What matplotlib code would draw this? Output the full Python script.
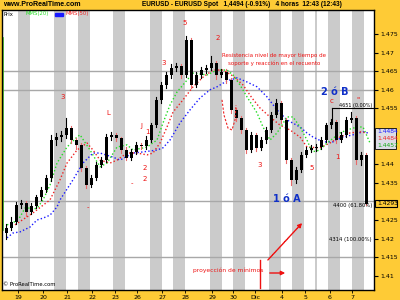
import numpy as np
import matplotlib
matplotlib.use('Agg')
import matplotlib.pyplot as plt
from matplotlib.patches import Rectangle

# --- 4h candles EURUSD ---
opens = [1.4215, 1.4229, 1.4245, 1.4290, 1.4296, 1.4272, 1.4288, 1.4312, 1.4331, 1.4363,
         1.4465, 1.4473, 1.4479, 1.4497, 1.4465, 1.4452, 1.4390, 1.4344, 1.4363, 1.4398,
         1.4411, 1.4473, 1.4479, 1.4470, 1.4438, 1.4417, 1.4433, 1.4452, 1.4449, 1.4465,
         1.4505, 1.4573, 1.4613, 1.4640, 1.4659, 1.4664, 1.4640, 1.4734, 1.4613, 1.4640,
         1.4653, 1.4659, 1.4672, 1.4640, 1.4648, 1.4626, 1.4546, 1.4524, 1.4492, 1.4438,
         1.4479, 1.4444, 1.4465, 1.4492, 1.4532, 1.4565, 1.4519, 1.4411, 1.4358, 1.4384,
         1.4425, 1.4438, 1.4444, 1.4446, 1.4465, 1.4505, 1.4513, 1.4465, 1.4479, 1.4519,
         1.4524, 1.4411, 1.4425]
closes = [1.4229, 1.4245, 1.4290, 1.4296, 1.4272, 1.4288, 1.4312, 1.4331, 1.4363, 1.4465,
          1.4473, 1.4479, 1.4497, 1.4465, 1.4452, 1.4390, 1.4344, 1.4363, 1.4398, 1.4411,
          1.4473, 1.4479, 1.4470, 1.4438, 1.4417, 1.4433, 1.4452, 1.4449, 1.4465, 1.4505,
          1.4573, 1.4613, 1.4640, 1.4659, 1.4664, 1.4640, 1.4734, 1.4613, 1.4640, 1.4653,
          1.4659, 1.4672, 1.4640, 1.4648, 1.4626, 1.4546, 1.4524, 1.4492, 1.4438, 1.4479,
          1.4444, 1.4465, 1.4492, 1.4532, 1.4565, 1.4519, 1.4411, 1.4358, 1.4384, 1.4425,
          1.4438, 1.4444, 1.4446, 1.4465, 1.4505, 1.4513, 1.4465, 1.4479, 1.4519, 1.4524,
          1.4411, 1.4425, 1.4293]
highs = [1.4240, 1.4258, 1.4298, 1.4305, 1.4300, 1.4295, 1.4318, 1.4338, 1.4370, 1.4478,
         1.4485, 1.4490, 1.4525, 1.4503, 1.4470, 1.4458, 1.4395, 1.4372, 1.4405, 1.4420,
         1.4480, 1.4486, 1.4484, 1.4474, 1.4445, 1.4440, 1.4460, 1.4458, 1.4475, 1.4512,
         1.4580, 1.4620, 1.4648, 1.4668, 1.4672, 1.4670, 1.4745, 1.4738, 1.4648, 1.4660,
         1.4666, 1.4690, 1.4678, 1.4656, 1.4655, 1.4632, 1.4552, 1.4530, 1.4498, 1.4486,
         1.4485, 1.4472, 1.4500, 1.4540, 1.4575, 1.4570, 1.4525, 1.4416, 1.4392, 1.4432,
         1.4446, 1.4452, 1.4455, 1.4472, 1.4512, 1.4522, 1.4518, 1.4487, 1.4526, 1.4540,
         1.4530, 1.4432, 1.4430]
lows = [1.4200, 1.4222, 1.4240, 1.4282, 1.4262, 1.4265, 1.4283, 1.4305, 1.4325, 1.4355,
        1.4452, 1.4462, 1.4470, 1.4458, 1.4440, 1.4382, 1.4335, 1.4338, 1.4358, 1.4392,
        1.4405, 1.4466, 1.4463, 1.4430, 1.4410, 1.4410, 1.4428, 1.4440, 1.4442, 1.4460,
        1.4500, 1.4565, 1.4605, 1.4632, 1.4650, 1.4632, 1.4635, 1.4605, 1.4608, 1.4632,
        1.4645, 1.4652, 1.4630, 1.4634, 1.4618, 1.4538, 1.4515, 1.4485, 1.4430, 1.4432,
        1.4436, 1.4438, 1.4458, 1.4486, 1.4526, 1.4510, 1.4402, 1.4345, 1.4350, 1.4378,
        1.4418, 1.4432, 1.4436, 1.4440, 1.4460, 1.4498, 1.4458, 1.4460, 1.4474, 1.4514,
        1.4400, 1.4398, 1.4290]

# moving averages, sampled (candle position, price)
ma_fast_x = [0.2, 1.4, 2.8, 3.8, 4.8, 5.4, 6.4, 7.4, 8.8, 10.2, 12.2, 14.2, 14.8, 16.8, 18.8,
             20.2, 22.2, 24.2, 25.4, 28.2, 30.2, 31.4, 32.8, 34.2, 36.2, 37.4, 40.2, 42.2, 44.2,
             45.4, 46.8, 48.2, 50.2, 51.4, 52.8, 54.2, 56.2, 57.4, 58.8, 60.2, 61.2, 62.8, 64.2,
             66.8, 68.2, 70.2, 71.4, 72.8]
ma_fast_y = [1.4237, 1.4242, 1.4258, 1.4282, 1.4282, 1.4277, 1.4285, 1.4304, 1.4344, 1.4403,
             1.4446, 1.4473, 1.4479, 1.4438, 1.4393, 1.4403, 1.4446, 1.4452, 1.4438, 1.4446,
             1.4465, 1.4511, 1.4559, 1.4594, 1.4626, 1.4645, 1.4640, 1.4653, 1.4653, 1.4640,
             1.4613, 1.4581, 1.4538, 1.4500, 1.4465, 1.4484, 1.4527, 1.4527, 1.4500, 1.4465,
             1.4433, 1.4438, 1.4457, 1.4484, 1.4492, 1.4500, 1.4500, 1.4457]
ma_mid_x = [1.8, 5.4, 8.8, 10.8, 12.2, 14.2, 16.2, 17.4, 18.8, 20.8, 22.2, 24.2, 26.2, 28.2,
            29.4, 30.8, 32.2, 33.4, 35.4, 37.4, 39.4, 41.4, 43.4, 45.4, 47.4, 49.2, 50.8, 52.8,
            54.8, 56.8, 58.8, 60.2, 62.8, 64.8, 66.8, 68.8, 70.8, 72.2]
ma_mid_y = [1.4237, 1.4269, 1.4304, 1.4358, 1.4403, 1.4438, 1.4457, 1.4438, 1.4411, 1.4403,
            1.4411, 1.4430, 1.4430, 1.4425, 1.4430, 1.4457, 1.4500, 1.4540, 1.4573, 1.4608,
            1.4634, 1.4653, 1.4653, 1.4637, 1.4613, 1.4578, 1.4551, 1.4527, 1.4505, 1.4492,
            1.4473, 1.4446, 1.4444, 1.4457, 1.4473, 1.4484, 1.4487, 1.4484]
ma_slow_x = [0.2, 1.4, 2.8, 4.8, 6.2, 7.4, 8.8, 10.2, 10.8, 13.4, 15.4, 17.4, 18.8, 21.4, 22.8,
             25.4, 27.4, 30.2, 31.4, 32.8, 34.8, 36.8, 38.8, 40.8, 42.2, 44.2, 46.2, 48.2, 50.2,
             52.2, 54.2, 56.2, 58.8, 60.2, 61.4, 63.4, 65.4, 67.4, 69.4, 71.4, 72.4]
ma_slow_y = [1.4202, 1.4215, 1.4218, 1.4231, 1.4250, 1.4255, 1.4263, 1.4285, 1.4304, 1.4358,
             1.4403, 1.4430, 1.4430, 1.4419, 1.4411, 1.4430, 1.4433, 1.4438, 1.4444, 1.4465,
             1.4511, 1.4546, 1.4578, 1.4600, 1.4608, 1.4624, 1.4632, 1.4621, 1.4608, 1.4581,
             1.4546, 1.4519, 1.4500, 1.4484, 1.4473, 1.4460, 1.4460, 1.4473, 1.4479, 1.4487,
             1.4484]

price_ticks = [1.475, 1.47, 1.465, 1.46, 1.455, 1.44, 1.435, 1.425, 1.42, 1.415, 1.41]
price_lines = [1.465, 1.46, 1.43, 1.415]
date_pos = [2.4, 7.4, 12.2, 17.2, 21.8, 26.2, 31.2, 35.8, 41.2, 45.4, 49.8, 55.2, 59.8, 64.8, 69.2]
date_labels = ['19', '20', '21', '22', '23', '26', '27', '28', '29', '30', 'Dic', '4', '5', '6', '7']
day_bands = [2.4, 9.6, 14.4, 21.4, 28.8, 33.4, 40.8, 45.4, 52.6, 57.2, 64.4, 69.2]

YELLOW = '#FECB36'
GREY = '#CBCBCB'

fig = plt.figure(figsize=(4, 3), dpi=100, facecolor=YELLOW)
ax = fig.add_axes([2 / 400, 10 / 300, 372 / 400, 280 / 300])
ax.set_facecolor('white')
ax.set_xlim(-0.8, 73.6)
ax.set_ylim(1.40618, 1.48145)


def pa(x, y):
    # pixel position of the 400x300 picture -> axes fraction
    return (x - 2) / 372, (290 - y) / 280


for b in day_bands:
    ax.axvspan(b, b + 2.4, color=GREY, lw=0, zorder=0)
ax.axvspan(61.8, 62.2, color=GREY, lw=0, zorder=0)
for p in price_lines:
    ax.axhline(p, color='#A8A8A8', lw=1, zorder=1)

# left green indicator line
ax.plot([0.002, 0.002], [pa(0, 230)[1], pa(0, 38)[1]], transform=ax.transAxes,
        color='#44cc22', lw=1.2, zorder=2)

# moving averages
ax.plot(ma_slow_x, ma_slow_y, color='#1a1aff', lw=1, ls=(0, (1, 1.6)), zorder=3)
ax.plot(ma_mid_x, ma_mid_y, color='#ee2222', lw=1, ls=(0, (1, 1.6)), zorder=3)
ax.plot(ma_fast_x, ma_fast_y, color='#22dd22', lw=1, ls=(0, (1, 1.6)), zorder=3)

# candles
for i in range(len(closes)):
    o, c, h, l = opens[i], closes[i], highs[i], lows[i]
    wick_col = 'black' if c >= o else '#e86a6a'
    ax.plot([i, i], [l, h], color=wick_col, lw=0.8, zorder=4)
    bottom = min(o, c)
    height = max(abs(c - o), 0.0003)
    ax.add_patch(Rectangle((i - 0.3, bottom), 0.6, height, facecolor='black',
                           edgecolor='none', zorder=5))

# axis styling
for s in ax.spines.values():
    s.set_color('black')
    s.set_linewidth(1)
ax.yaxis.tick_right()
ax.set_yticks(price_ticks)
ax.set_yticklabels([f'{p:.3f}'.rstrip('0') for p in price_ticks])
ax.tick_params(axis='y', length=3, width=0.8, pad=1.5, labelsize=4.5, colors='black')
ax.set_xticks(date_pos)
ax.set_xticklabels(date_labels)
ax.tick_params(axis='x', length=2, width=0.6, pad=1.5, labelsize=4.5, colors='black')

# red dashed ellipse piece
ux = [(222 - 6) / 5, (224 - 6) / 5, (228 - 6) / 5, (232 - 6) / 5, (235 - 6) / 5, (236 - 6) / 5]
uy = [1.4573, 1.4532, 1.4497, 1.4492, 1.4519, 1.4559]
ax.plot(ux, uy, color='#ee2222', lw=0.8, ls=(0, (2, 1.5)), zorder=6)

# annotations
red = '#ee1111'
blue = '#1030c8'
kw = dict(transform=ax.transAxes, clip_on=False, zorder=8)
ax.text(*pa(222, 55), 'Resistencia nivel de mayor tiempo de', color=red, fontsize=4.0,
        va='center', ha='left', **kw)
ax.text(*pa(228, 63), 'soporte y reacción en el recuento', color=red, fontsize=4.0,
        va='center', ha='left', **kw)
ax.text(*pa(321, 92), '2 ó B', color=blue, fontsize=7, fontweight='bold', va='center', **kw)
ax.text(*pa(273, 199), '1 ó A', color=blue, fontsize=7, fontweight='bold', va='center', **kw)
ax.text(*pa(193, 270), 'proyección de mínimos', color=red, fontsize=4.3, va='center', **kw)

for (x, y, s) in [(185, 23, '5'), (218, 38, '2'), (164, 63, '3'), (63, 97, '3'),
                  (108, 113, 'L'), (141, 126, 'J'), (147, 132, '1'), (145, 168, '2'),
                  (145, 179, '2'), (132, 183, '-'), (88, 207, '-'), (260, 165, '3'),
                  (312, 168, '5'), (337, 157, '1'), (332, 101, 'c'), (358, 99, '"')]:
    ax.text(*pa(x, y), s, color=red, fontsize=5, ha='center', va='center', **kw)

# red arrows near the bottom
ax.plot([pa(260, 260)[0], pa(260, 288)[0]], [pa(260, 260)[1], pa(260, 288)[1]],
        transform=ax.transAxes, color=red, lw=1, zorder=7)
ax.annotate('', xy=pa(288, 273), xytext=pa(267, 273), xycoords='axes fraction',
            arrowprops=dict(arrowstyle='-|>', color=red, lw=1, mutation_scale=6))
ax.annotate('', xy=pa(304, 221), xytext=pa(266, 262), xycoords='axes fraction',
            arrowprops=dict(arrowstyle='-|>', color=red, lw=1, ls=(0, (2, 0.6)),
                            mutation_scale=6))

# fibonacci marks (black)
ax.plot([pa(332, 108)[0], 1.0], [pa(332, 108)[1]] * 2, transform=ax.transAxes,
        color='black', lw=0.8, zorder=7)
ax.plot([pa(332, 108)[0]] * 2, [pa(332, 108)[1], pa(332, 123)[1]], transform=ax.transAxes,
        color='black', lw=0.8, zorder=7)
ax.text(*pa(372, 105), '4651 (0.00%)', fontsize=3.5, ha='right', va='center', **kw)
ax.text(*pa(372, 205), '4400 (61.80%)', fontsize=3.8, ha='right', va='center', **kw)
ax.text(*pa(372, 240), '4314 (100.00%)', fontsize=3.8, ha='right', va='center', **kw)

# legend line in the top left corner
ax.text(*pa(4, 14), 'Prix', fontsize=3.8, va='center', **kw)
ax.text(*pa(26, 14), 'MMS(20)', fontsize=3.8, color='#22dd22', va='center', **kw)
ax.add_patch(Rectangle(pa(55, 16), 8 / 372, 3 / 280, transform=ax.transAxes,
                       color='#1a1aff', zorder=8))
ax.text(*pa(66, 14), 'MMS(50)', fontsize=3.8, color='#ee2222', va='center', **kw)
ax.text(*pa(3, 285), '© ProRealTime.com', fontsize=3.8, va='center', **kw)

# right-hand value boxes
fig.patches.append(Rectangle((375 / 400, 1 - 149 / 300), 21 / 400, 21 / 300,
                             transform=fig.transFigure, facecolor='#dcdce6',
                             edgecolor='black', lw=0.6, figure=fig))
fig.text(377 / 400, 1 - 132 / 300, '1.4484', color='#1a1aff', fontsize=4.3, va='center')
fig.text(377 / 400, 1 - 138 / 300, '1.4484', color='#ee2222', fontsize=4.3, va='center')
fig.text(377 / 400, 1 - 145 / 300, '1.4457', color='#11aa11', fontsize=4.3, va='center')
fig.patches.append(Rectangle((375 / 400, 1 - 207 / 300), 22 / 400, 7 / 300,
                             transform=fig.transFigure, facecolor=YELLOW,
                             edgecolor='black', lw=0.8, figure=fig))
fig.text(377 / 400, 1 - 203.5 / 300, '1.4293', color='black', fontsize=4.3, va='center')

# top bar
fig.text(3 / 400, 1 - 5 / 300, 'www.ProRealTime.com', fontsize=5.0, fontweight='bold',
         family='Liberation Sans', va='center')
fig.text(142 / 400, 1 - 5 / 300,
         'EURUSD - EURUSD Spot   1,4494 (-0.91%)   4 horas  12:43 (12:43)',
         fontsize=4.7, fontweight='bold', family='Liberation Sans', va='center')

fig.savefig('out.png', dpi=100, facecolor=YELLOW)
